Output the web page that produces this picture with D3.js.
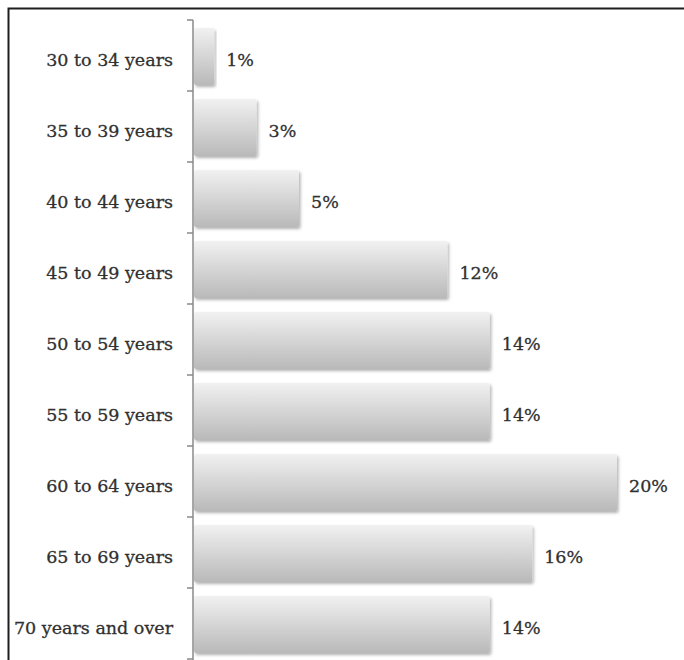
<!DOCTYPE html>
<html>
<head>
<meta charset="utf-8">
<script src="https://cdn.jsdelivr.net/npm/d3@7"></script>
<style>
  html, body { margin: 0; padding: 0; background: #fff; }
  svg { display: block; }
</style>
</head>
<body>
<svg id="chart" width="684" height="660"></svg>
<script>
// Age groups and their shares (percent)
const categories = [
  "30 to 34 years", "35 to 39 years", "40 to 44 years", "45 to 49 years",
  "50 to 54 years", "55 to 59 years", "60 to 64 years", "65 to 69 years",
  "70 years and over"
];
const shares = [1, 3, 5, 12, 14, 14, 20, 16, 14];

const svg = d3.select("#chart");
const W = 684, H = 660;
const margin = { top: 20, left: 193, right: 40, bottom: 1 };

const y = d3.scaleBand()
  .domain(categories)
  .range([margin.top, margin.top + 71 * categories.length])
  .paddingInner(0.2)
  .paddingOuter(0.1);

const x = d3.scaleLinear()
  .domain([0, 20])
  .range([margin.left, margin.left + 424]);

const defs = svg.append("defs");
const grad = defs.append("linearGradient")
  .attr("id", "barFill")
  .attr("x1", 0).attr("y1", 0).attr("x2", 0).attr("y2", 1);
grad.append("stop").attr("offset", "0%").attr("stop-color", "#f1f1f1");
grad.append("stop").attr("offset", "100%").attr("stop-color", "#b9b9b9");

const shadow = defs.append("filter")
  .attr("id", "barShadow")
  .attr("x", "-5%").attr("y", "-10%").attr("width", "115%").attr("height", "130%");
shadow.append("feDropShadow")
  .attr("dx", 1.5).attr("dy", 2)
  .attr("stdDeviation", 1.5)
  .attr("flood-color", "#000")
  .attr("flood-opacity", 0.3);

// Outer frame (top and left edges)
svg.append("path")
  .attr("d", `M8.5,${H} V8.5 H${W}`)
  .attr("fill", "none")
  .attr("stroke", "#1e1e1e")
  .attr("stroke-width", 2);

// Bars
svg.append("g")
  .selectAll("rect")
  .data(shares)
  .join("rect")
  .attr("x", x(0) + 1)
  .attr("y", (d, i) => y(categories[i]) + 1)
  .attr("width", d => x(d) - x(0) - 1)
  .attr("height", y.bandwidth())
  .attr("rx", 2)
  .attr("fill", "url(#barFill)")
  .attr("filter", "url(#barShadow)");

// Category axis with ticks between bands
const axisG = svg.append("g")
  .attr("transform", `translate(${x(0)},0)`);

axisG.append("line")
  .attr("y1", margin.top).attr("y2", H)
  .attr("stroke", "#8a8a8a").attr("stroke-width", 1.5);

const boundaries = d3.range(categories.length + 1)
  .map(i => margin.top + 71 * i);
axisG.selectAll("line.tick")
  .data(boundaries)
  .join("line")
  .attr("class", "tick")
  .attr("x1", -6).attr("x2", 0)
  .attr("y1", d => d).attr("y2", d => d)
  .attr("stroke", "#8a8a8a").attr("stroke-width", 1.5);

const labelFont = "'DejaVu Serif', serif";
const labelSize = 17.5;

function styleLabel(sel) {
  sel.attr("dominant-baseline", "middle")
    .attr("font-family", labelFont)
    .attr("font-size", labelSize)
    .attr("fill", "#303030")
    .attr("stroke", "#303030")
    .attr("stroke-width", 0.3);
}

// Category labels
svg.append("g")
  .selectAll("text")
  .data(categories)
  .join("text")
  .attr("x", x(0) - 20)
  .attr("y", d => y(d) + y.bandwidth() / 2 + 6)
  .attr("text-anchor", "end")
  .call(styleLabel)
  .text(d => d);

// Value labels
svg.append("g")
  .selectAll("text")
  .data(shares)
  .join("text")
  .attr("x", d => x(d) + 12)
  .attr("y", (d, i) => y(categories[i]) + y.bandwidth() / 2 + 6)
  .call(styleLabel)
  .text(d => d + "%");
</script>
</body>
</html>
